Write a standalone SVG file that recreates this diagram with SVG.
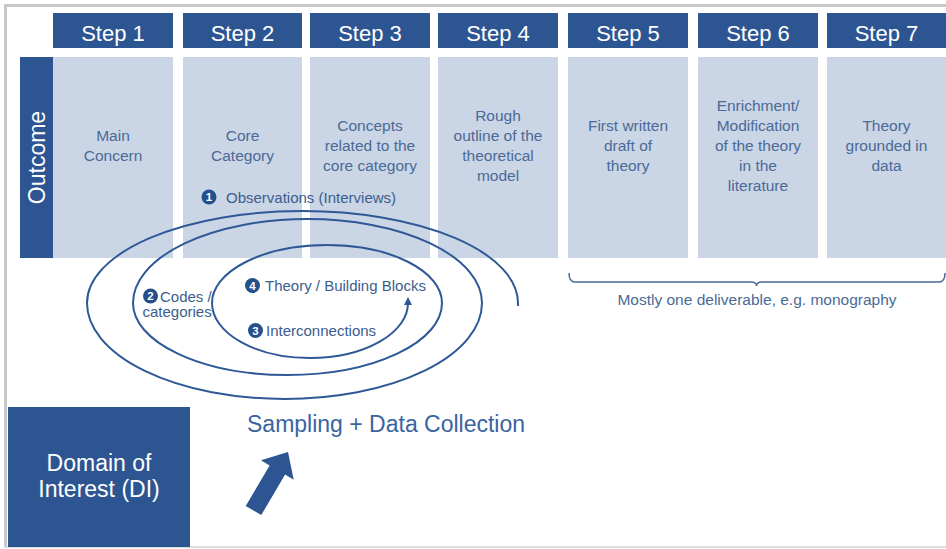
<svg xmlns="http://www.w3.org/2000/svg" width="946" height="549" viewBox="0 0 946 549">
<defs>
<style>
text{font-family:"Liberation Sans",Arial,sans-serif}
.hdr{fill:#2D5592}
.lbox{fill:#CAD5E5}
.htxt{fill:#fff;font-size:22px;text-anchor:middle}
.btxt{fill:#4B6A97;font-size:15.5px;text-anchor:middle}
.lbl{fill:#3C5D8E;font-size:15px}
.num{fill:#24508C}
.ntxt{fill:#fff;font-size:11.5px;text-anchor:middle;font-weight:bold}
.spiral{fill:none;stroke:#2E5896;stroke-width:2}
</style>
<marker id="ah" markerUnits="userSpaceOnUse" markerWidth="9" markerHeight="9" refX="2" refY="4" orient="auto">
<path d="M0,0 L8,4 L0,8 z" fill="#2E5896"/>
</marker>
</defs>
<rect width="946" height="549" fill="#fff"/>
<g id="frame">
<line x1="4" y1="5.5" x2="946" y2="5.5" stroke="#C8C8C8" stroke-width="3"/>
<line x1="5.5" y1="4" x2="5.5" y2="547" stroke="#C8C8C8" stroke-width="3"/>
<line x1="4" y1="547" x2="946" y2="547" stroke="#D2D2D2" stroke-width="1.5"/>
</g>
<g id="outcome">
<rect class="hdr" x="20" y="57" width="33" height="201"/>
<text x="44.5" y="157.5" transform="rotate(-90 44.5 157.5)" fill="#fff" font-size="23" text-anchor="middle">Outcome</text>
</g>
<g id="step1">
<rect class="hdr" x="53" y="13" width="120" height="35"/>
<text class="htxt" x="113" y="40.5">Step 1</text>
<rect class="lbox" x="53" y="57" width="120" height="201"/>
<text class="btxt" x="113" y="140.5">Main</text>
<text class="btxt" x="113" y="160.5">Concern</text>
</g>
<g id="step2">
<rect class="hdr" x="183" y="13" width="119" height="35"/>
<text class="htxt" x="242.5" y="40.5">Step 2</text>
<rect class="lbox" x="183" y="57" width="119" height="201"/>
<text class="btxt" x="242.5" y="140.5">Core</text>
<text class="btxt" x="242.5" y="160.5">Category</text>
</g>
<g id="step3">
<rect class="hdr" x="310" y="13" width="120" height="35"/>
<text class="htxt" x="370" y="40.5">Step 3</text>
<rect class="lbox" x="310" y="57" width="120" height="201"/>
<text class="btxt" x="370" y="130.5">Concepts</text>
<text class="btxt" x="370" y="150.5">related to the</text>
<text class="btxt" x="370" y="170.5">core category</text>
</g>
<g id="step4">
<rect class="hdr" x="438" y="13" width="120" height="35"/>
<text class="htxt" x="498" y="40.5">Step 4</text>
<rect class="lbox" x="438" y="57" width="120" height="201"/>
<text class="btxt" x="498" y="120.5">Rough</text>
<text class="btxt" x="498" y="140.5">outline of the</text>
<text class="btxt" x="498" y="160.5">theoretical</text>
<text class="btxt" x="498" y="180.5">model</text>
</g>
<g id="step5">
<rect class="hdr" x="568" y="13" width="120" height="35"/>
<text class="htxt" x="628" y="40.5">Step 5</text>
<rect class="lbox" x="568" y="57" width="120" height="201"/>
<text class="btxt" x="628" y="130.5">First written</text>
<text class="btxt" x="628" y="150.5">draft of</text>
<text class="btxt" x="628" y="170.5">theory</text>
</g>
<g id="step6">
<rect class="hdr" x="698" y="13" width="120" height="35"/>
<text class="htxt" x="758" y="40.5">Step 6</text>
<rect class="lbox" x="698" y="57" width="120" height="201"/>
<text class="btxt" x="758" y="110.5">Enrichment/</text>
<text class="btxt" x="758" y="130.5">Modification</text>
<text class="btxt" x="758" y="150.5">of the theory</text>
<text class="btxt" x="758" y="170.5">in the</text>
<text class="btxt" x="758" y="190.5">literature</text>
</g>
<g id="step7">
<rect class="hdr" x="827" y="13" width="119" height="35"/>
<text class="htxt" x="886.5" y="40.5">Step 7</text>
<rect class="lbox" x="827" y="57" width="119" height="201"/>
<text class="btxt" x="886.5" y="130.5">Theory</text>
<text class="btxt" x="886.5" y="150.5">grounded in</text>
<text class="btxt" x="886.5" y="170.5">data</text>
</g>
<g id="connectors">
<path class="spiral" marker-end="url(#ah)" d="M518,306 L518,303 A215.5,92 0 0 0 87,303 A197.5,96 0 0 0 482,303 A174.5,84 0 0 0 133,303 A154.5,72 0 0 0 442,303 A115,58 0 0 0 212,303 A98,55 0 0 0 408,303"/>
<path d="M569,273 Q569,282 575,282 L751,282 Q756.5,282 756.5,286 Q756.5,282 762,282 L939,282 Q945,282 945,273" fill="none" stroke="#4B6A97" stroke-width="1.5"/>
<polygon points="0,-9 47,-9 47,-19 68,0 47,19 47,9 0,9" fill="#2D5592" transform="translate(253.5,510.5) rotate(-59.5)"/>
</g>
<g id="label-observations">
<circle class="num" cx="209" cy="197" r="7.5"/>
<text class="ntxt" x="209" y="201">1</text>
<text class="lbl" x="226" y="202.5">Observations (Interviews)</text>
</g>
<g id="label-codes">
<circle class="num" cx="150.5" cy="296" r="7.5"/>
<text class="ntxt" x="150.5" y="300">2</text>
<text class="lbl" x="160" y="301.5">Codes /</text>
<text class="lbl" x="142.5" y="317">categories</text>
</g>
<g id="label-theory">
<circle class="num" cx="252.5" cy="285.5" r="7.5"/>
<text class="ntxt" x="252.5" y="289.5">4</text>
<text class="lbl" x="265" y="290.5">Theory / Building Blocks</text>
</g>
<g id="label-interconnections">
<circle class="num" cx="255.5" cy="330.5" r="7.5"/>
<text class="ntxt" x="255.5" y="334.5">3</text>
<text class="lbl" x="266" y="335.5">Interconnections</text>
</g>
<g id="label-deliverable">
<text x="757" y="305" fill="#4B6A97" font-size="15.5" text-anchor="middle">Mostly one deliverable, e.g. monography</text>
</g>
<g id="sampling">
<text x="247" y="432" fill="#3A64A0" font-size="23">Sampling + Data Collection</text>
</g>
<g id="domain">
<rect x="8" y="407" width="182" height="140" fill="#2D5592"/>
<text x="99" y="471" fill="#fff" font-size="23" text-anchor="middle">Domain of</text>
<text x="99" y="497" fill="#fff" font-size="23" text-anchor="middle">Interest (DI)</text>
</g>
</svg>
